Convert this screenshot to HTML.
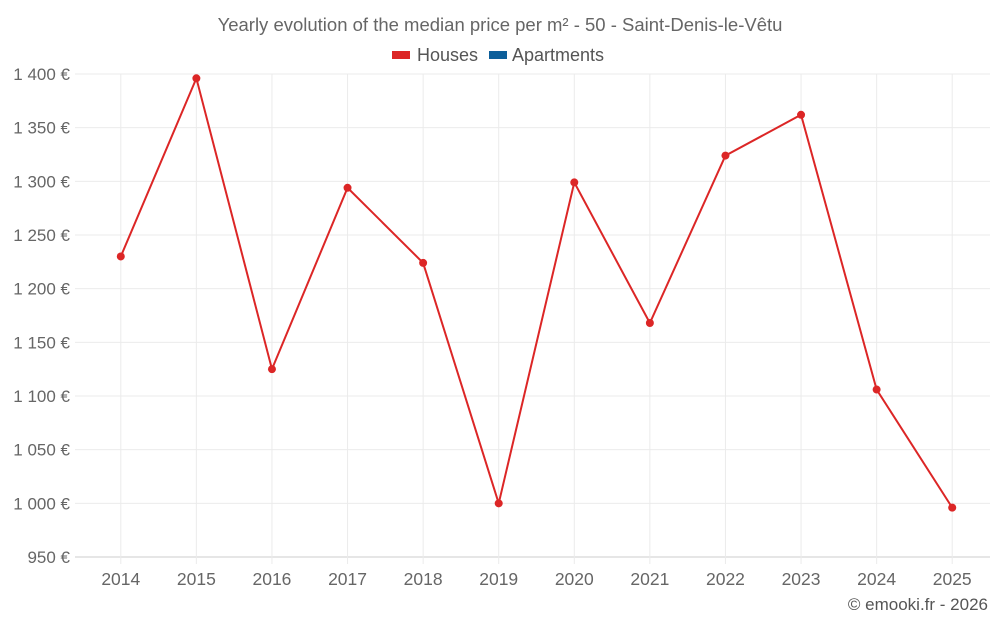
<!DOCTYPE html>
<html><head><meta charset="utf-8"><style>
body{margin:0;background:#fff;font-family:"Liberation Sans",sans-serif;}
svg text{font-family:"Liberation Sans",sans-serif;}
</style></head><body>
<svg id="c" width="1000" height="625">
<text x="500" y="31" text-anchor="middle" font-size="18.5" fill="#666">Yearly evolution of the median price per m² - 50 - Saint-Denis-le-Vêtu</text>
<g>
<g><rect x="392" y="51" width="18" height="8" fill="#dc2626"/><text x="417" y="61" font-size="18" fill="#555">Houses</text></g>
<g><rect x="489" y="51" width="18" height="8" fill="#0d5f9a"/><text x="512" y="61" font-size="18" fill="#555">Apartments</text></g>
</g>
<g id="grid"></g><g id="axes"></g><g id="series"></g>
<text x="988" y="610" text-anchor="end" font-size="17" fill="#555">© emooki.fr - 2026</text>
</svg>
<script>
const categories=["2014","2015","2016","2017","2018","2019","2020","2021","2022","2023","2024","2025"];
const houses=[1230,1396,1125,1294,1224,1000,1299,1168,1324,1362,1106,996];
const yTicks=[950,1000,1050,1100,1150,1200,1250,1300,1350,1400];
const yLabels=["950 €","1 000 €","1 050 €","1 100 €","1 150 €","1 200 €","1 250 €","1 300 €","1 350 €","1 400 €"];
const L=83,R=990,T=74,B=557,ymin=950,ymax=1400;
const NS="http://www.w3.org/2000/svg";
const bw=(R-L)/categories.length;
const x=i=>L+bw*(i+0.5);
const y=v=>B-(v-ymin)/(ymax-ymin)*(B-T);
function mk(t,a,p){const e=document.createElementNS(NS,t);for(const k in a)e.setAttribute(k,a[k]);p.appendChild(e);return e;}
const g=document.getElementById('grid'),ax=document.getElementById('axes'),s=document.getElementById('series');
yTicks.forEach((v,i)=>{
 const l=mk('line',{x1:75,x2:R,y1:y(v),y2:y(v),stroke:i==0?'#ccc':'#ebebeb'},g);
 
 
 const t=mk('text',{x:70,y:y(v)+6,'text-anchor':'end','font-size':17,fill:'#666'},ax);
 t.textContent=yLabels[i];
 
 
});
categories.forEach((c,i)=>{
 const l=mk('line',{x1:x(i),x2:x(i),y1:T,y2:B+7,stroke:'#ebebeb'},g);
 
 
 const t=mk('text',{x:x(i),y:585,'text-anchor':'middle','font-size':17.5,fill:'#666'},ax);
 t.textContent=c;
 
 
});
const pl=mk('polyline',{points:houses.map((v,i)=>x(i)+','+y(v)).join(' '),fill:'none',stroke:'#dc2626','stroke-width':2},s);


houses.forEach((v,i)=>{
 const p=mk('circle',{cx:x(i),cy:y(v),r:4,fill:'#dc2626'},s);
 
 
});
</script>
</body></html>
